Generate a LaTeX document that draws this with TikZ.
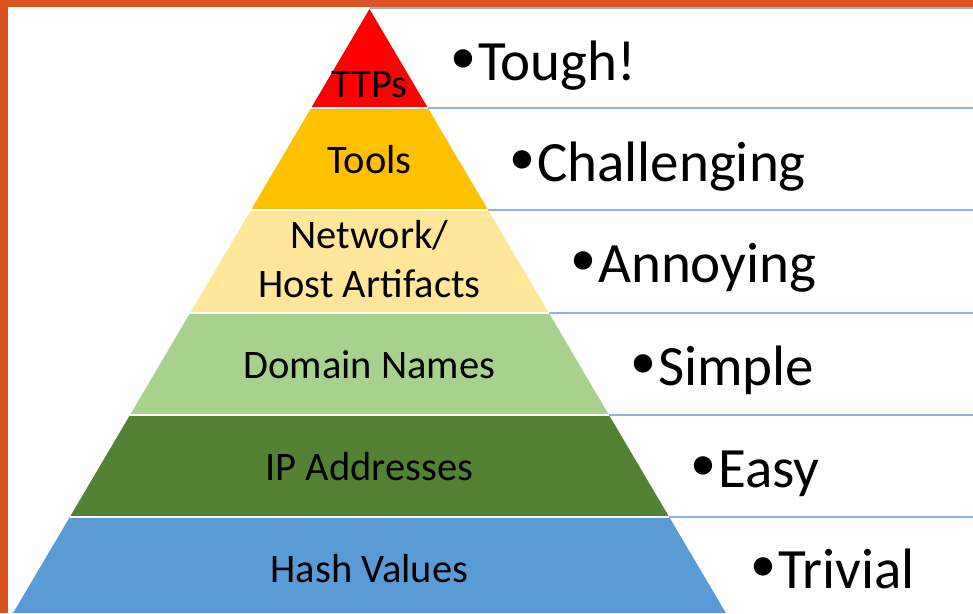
\documentclass[tikz,border=0pt]{standalone}
\usepackage{fontspec}
\setmainfont{Carlito}
\definecolor{frameorange}{RGB}{217,84,30}
\definecolor{ttpred}{RGB}{255,0,0}
\definecolor{toolgold}{RGB}{255,192,0}
\definecolor{netyellow}{RGB}{255,230,153}
\definecolor{domgreen}{RGB}{169,209,142}
\definecolor{ipgreen}{RGB}{84,130,53}
\definecolor{hashblue}{RGB}{91,155,213}
\definecolor{rowline}{RGB}{143,180,227}
\newcommand\mybul{\raisebox{7pt}{\fontsize{52}{52}\selectfont •}\hspace{2pt}}
\tikzset{
  layerlabel/.style={font=\fontsize{40.5}{48}\selectfont, text=black, inner sep=0pt, anchor=base},
  difflabel/.style={font=\fontsize{57}{62}\selectfont, text=black, inner sep=0pt, anchor=base west},
  rowrule/.style={draw=rowline, line width=2pt},
  sepline/.style={draw=white, line width=1.5pt}
}
\begin{document}
\begin{tikzpicture}[x=1pt,y=-1pt]
\useasboundingbox (0,0) rectangle (973,613);
\fill[frameorange] (0,0) rectangle (973,613);
\fill[white] (8,7) rectangle (973,613);
% pyramid edge coordinates
\coordinate (apex) at (369.5,9);
\coordinate (L1) at (311.1,108); \coordinate (R1) at (427.9,108);
\coordinate (L2) at (250.9,210); \coordinate (R2) at (488.1,210);
\coordinate (L3) at (190.1,313); \coordinate (R3) at (548.9,313);
\coordinate (L4) at (130.0,415); \coordinate (R4) at (609.0,415);
\coordinate (L5) at (69.8,517);  \coordinate (R5) at (669.2,517);
\coordinate (L6) at (13.1,613);  \coordinate (R6) at (725.9,613);
% right ends of rules
\coordinate (E0) at (973,8);
\coordinate (E1) at (973,108);
\coordinate (E2) at (973,210);
\coordinate (E3) at (973,313);
\coordinate (E4) at (973,415);
\coordinate (E5) at (973,517);
% rules
\draw[rowrule] (369.5,8) -- (E0);
\draw[rowrule] (R1) -- (E1);
\draw[rowrule] (R2) -- (E2);
\draw[rowrule] (R3) -- (E3);
\draw[rowrule] (R4) -- (E4);
\draw[rowrule] (R5) -- (E5);
% layers
\fill[ttpred] (apex) -- (R1) -- (L1) -- cycle;
\fill[toolgold] (L1) -- (R1) -- (R2) -- (L2) -- cycle;
\fill[netyellow] (L2) -- (R2) -- (R3) -- (L3) -- cycle;
\fill[domgreen] (L3) -- (R3) -- (R4) -- (L4) -- cycle;
\fill[ipgreen] (L4) -- (R4) -- (R5) -- (L5) -- cycle;
\fill[hashblue] (L5) -- (R5) -- (R6) -- (L6) -- cycle;
% separators
\draw[sepline] (L1) -- (R1);
\draw[sepline] (L2) -- (R2);
\draw[sepline] (L3) -- (R3);
\draw[sepline] (L4) -- (R4);
\draw[sepline] (L5) -- (R5);
% layer labels
\node[layerlabel] (ttps) at (369.5,97) {TTPs};
\node[layerlabel] (tools) at (369.5,173) {Tools};
\node[layerlabel] (net) at (369.5,248) {Network/};
\node[layerlabel] (host) at (369.5,297) {Host Artifacts};
\node[layerlabel] (dom) at (369.5,378) {Domain Names};
\node[layerlabel] (ip) at (369.5,480) {IP Addresses};
\node[layerlabel] (hash) at (369.5,582) {Hash Values};
% difficulty labels
\node[difflabel] (tough) at (450,80) {\mybul Tough!};
\node[difflabel] (chall) at (509,181) {\mybul Challenging};
\node[difflabel] (annoy) at (570,282) {\mybul Annoying};
\node[difflabel] (simple) at (630,385) {\mybul Simple};
\node[difflabel] (easy) at (690,487) {\mybul Easy};
\node[difflabel] (trivial) at (750,588) {\mybul Trivial};
\end{tikzpicture}
\end{document}
